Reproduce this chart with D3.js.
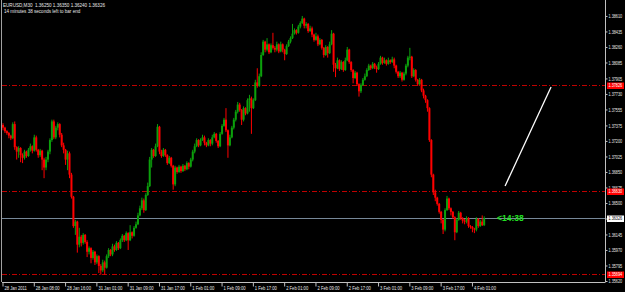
<!DOCTYPE html>
<html>
<head>
<meta charset="utf-8">
<script src="https://cdn.jsdelivr.net/npm/d3@7"></script>
<style>
  body { margin: 0; background: #000; }
  svg { display: block; }
  text { font-family: "Liberation Sans", Arial, sans-serif; }
</style>
</head>
<body>
<div id="chart"></div>
<script>
// EURUSD M30, 28 Jan 2011 00:00 .. 4 Feb 2011 04:30
var symbol = "EURUSD,M30";
var barInfo = "14 minutes 38 seconds left to bar end";
var countdown = "<14:38";

var firstOpen = 1.3738;
var closes = [
  1.3735,1.3731,1.3729,1.3726,1.3723,1.3739,1.3713,1.3708,1.3712,1.3704,
  1.3701,1.3708,1.3703,1.3710,1.3714,1.3709,1.3724,1.3710,1.3704,1.3709,
  1.3699,1.3690,1.3699,1.3708,1.3721,1.3742,1.3724,1.3735,1.3739,1.3727,
  1.3715,1.3710,1.3699,1.3706,1.3682,1.3657,1.3624,1.3629,1.3603,1.3612,
  1.3605,1.3614,1.3606,1.3595,1.3599,1.3588,1.3595,1.3583,1.3590,1.3579,
  1.3574,1.3583,1.3577,1.3590,1.3597,1.3592,1.3601,1.3597,1.3605,1.3599,
  1.3608,1.3613,1.3608,1.3616,1.3608,1.3617,1.3613,1.3622,1.3626,1.3636,
  1.3644,1.3653,1.3642,1.3659,1.3669,1.3699,1.3710,1.3703,1.3714,1.3736,
  1.3708,1.3703,1.3710,1.3704,1.3695,1.3701,1.3692,1.3671,1.3690,1.3685,
  1.3691,1.3686,1.3692,1.3688,1.3695,1.3691,1.3699,1.3708,1.3714,1.3721,
  1.3715,1.3721,1.3724,1.3718,1.3715,1.3721,1.3717,1.3724,1.3728,1.3720,
  1.3714,1.3728,1.3737,1.3744,1.3732,1.3715,1.3724,1.3735,1.3744,1.3753,
  1.3761,1.3755,1.3744,1.3757,1.3751,1.3766,1.3768,1.3757,1.3766,1.3786,
  1.3782,1.3793,1.3817,1.3832,1.3823,1.3829,1.3820,1.3828,1.3825,1.3823,
  1.3829,1.3821,1.3829,1.3823,1.3818,1.3827,1.3832,1.3836,1.3841,1.3845,
  1.3842,1.3849,1.3853,1.3858,1.3850,1.3852,1.3844,1.3847,1.3840,1.3834,
  1.3838,1.3829,1.3834,1.3825,1.3817,1.3826,1.3819,1.3829,1.3841,1.3806,
  1.3802,1.3811,1.3801,1.3809,1.3800,1.3811,1.3823,1.3809,1.3800,1.3791,
  1.3797,1.3784,1.3776,1.3783,1.3789,1.3793,1.3800,1.3805,1.3802,1.3807,
  1.3803,1.3801,1.3807,1.3814,1.3808,1.3811,1.3807,1.3811,1.3809,1.3812,
  1.3805,1.3798,1.3793,1.3797,1.3789,1.3796,1.3805,1.3814,1.3815,1.3793,
  1.3800,1.3789,1.3784,1.3789,1.3777,1.3771,1.3766,1.3757,1.3721,1.3682,
  1.3662,1.3656,1.3649,1.3640,1.3631,1.3620,1.3642,1.3655,1.3644,1.3640,
  1.3634,1.3617,1.3631,1.3639,1.3633,1.3630,1.3629,1.3633,1.3624,1.3623,
  1.3621,1.3620,1.3632,1.3624,1.3629,1.3625,1.36326
];
var highs = [
  1.3740,1.3736,1.3732,1.3730,1.3727,1.3741,1.3742,1.3714,1.3714,1.3713,
  1.3706,1.3710,1.3709,1.3712,1.3717,1.3715,1.3727,1.3726,1.3711,1.3711,
  1.3710,1.3701,1.3702,1.3710,1.3723,1.3744,1.3744,1.3737,1.3741,1.3740,
  1.3729,1.3718,1.3711,1.3709,1.3708,1.3684,1.3658,1.3631,1.3630,1.3622,
  1.3614,1.3616,1.3615,1.3608,1.3601,1.3600,1.3597,1.3596,1.3592,1.3591,
  1.3581,1.3586,1.3585,1.3592,1.3599,1.3598,1.3604,1.3603,1.3607,1.3606,
  1.3610,1.3615,1.3614,1.3618,1.3617,1.3625,1.3618,1.3624,1.3629,1.3639,
  1.3647,1.3656,1.3655,1.3661,1.3673,1.3702,1.3712,1.3711,1.3717,1.3739,
  1.3737,1.3710,1.3712,1.3711,1.3705,1.3703,1.3702,1.3693,1.3692,1.3691,
  1.3693,1.3692,1.3694,1.3693,1.3697,1.3696,1.3701,1.3710,1.3717,1.3723,
  1.3722,1.3723,1.3727,1.3726,1.3719,1.3723,1.3722,1.3727,1.3730,1.3729,
  1.3721,1.3730,1.3739,1.3746,1.3757,1.3733,1.3727,1.3737,1.3746,1.3755,
  1.3764,1.3763,1.3756,1.3759,1.3758,1.3768,1.3772,1.3770,1.3768,1.3789,
  1.3802,1.3796,1.3820,1.3834,1.3833,1.3836,1.3830,1.3830,1.3842,1.3827,
  1.3832,1.3830,1.3832,1.3830,1.3824,1.3829,1.3834,1.3838,1.3852,1.3847,
  1.3846,1.3851,1.3855,1.3861,1.3859,1.3854,1.3853,1.3850,1.3849,1.3841,
  1.3842,1.3840,1.3836,1.3835,1.3826,1.3828,1.3827,1.3832,1.3845,1.3842,
  1.3808,1.3814,1.3812,1.3811,1.3810,1.3814,1.3826,1.3824,1.3810,1.3801,
  1.3799,1.3798,1.3785,1.3785,1.3791,1.3796,1.3802,1.3807,1.3806,1.3809,
  1.3808,1.3805,1.3809,1.3816,1.3815,1.3814,1.3812,1.3814,1.3812,1.3815,
  1.3814,1.3806,1.3799,1.3799,1.3798,1.3798,1.3807,1.3816,1.3825,1.3816,
  1.3802,1.3801,1.3790,1.3791,1.3790,1.3779,1.3772,1.3767,1.3758,1.3722,
  1.3683,1.3665,1.3657,1.3650,1.3641,1.3632,1.3644,1.3658,1.3656,1.3645,
  1.3641,1.3635,1.3633,1.3641,1.3640,1.3634,1.3632,1.3635,1.3634,1.3625,
  1.3624,1.3622,1.3634,1.3633,1.3631,1.3636,1.36350
];
var lows = [
  1.3732,1.3729,1.3727,1.3723,1.3721,1.3722,1.3710,1.3699,1.3701,1.3696,
  1.3695,1.3699,1.3701,1.3702,1.3708,1.3706,1.3708,1.3708,1.3701,1.3702,
  1.3687,1.3678,1.3687,1.3696,1.3705,1.3719,1.3722,1.3722,1.3732,1.3724,
  1.3713,1.3706,1.3693,1.3687,1.3678,1.3655,1.3622,1.3614,1.3594,1.3600,
  1.3601,1.3603,1.3604,1.3589,1.3592,1.3582,1.3586,1.3580,1.3581,1.3571,
  1.3569,1.3572,1.3569,1.3576,1.3588,1.3590,1.3590,1.3595,1.3596,1.3597,
  1.3598,1.3606,1.3606,1.3607,1.3597,1.3607,1.3610,1.3612,1.3621,1.3625,
  1.3635,1.3642,1.3639,1.3641,1.3658,1.3668,1.3690,1.3701,1.3702,1.3713,
  1.3705,1.3701,1.3702,1.3702,1.3693,1.3694,1.3690,1.3665,1.3669,1.3683,
  1.3684,1.3684,1.3685,1.3686,1.3687,1.3688,1.3690,1.3697,1.3706,1.3713,
  1.3713,1.3714,1.3720,1.3715,1.3713,1.3714,1.3714,1.3715,1.3723,1.3718,
  1.3712,1.3713,1.3727,1.3736,1.3730,1.3701,1.3714,1.3723,1.3733,1.3742,
  1.3751,1.3753,1.3738,1.3742,1.3749,1.3750,1.3753,1.3728,1.3756,1.3765,
  1.3780,1.3781,1.3792,1.3816,1.3820,1.3821,1.3818,1.3819,1.3823,1.3820,
  1.3821,1.3819,1.3820,1.3820,1.3811,1.3817,1.3826,1.3830,1.3835,1.3840,
  1.3840,1.3841,1.3847,1.3852,1.3847,1.3847,1.3842,1.3843,1.3837,1.3832,
  1.3833,1.3827,1.3828,1.3823,1.3814,1.3816,1.3814,1.3818,1.3828,1.3798,
  1.3792,1.3801,1.3799,1.3800,1.3798,1.3799,1.3810,1.3807,1.3798,1.3785,
  1.3790,1.3782,1.3770,1.3774,1.3782,1.3788,1.3792,1.3799,1.3800,1.3801,
  1.3801,1.3797,1.3800,1.3806,1.3806,1.3807,1.3805,1.3806,1.3807,1.3808,
  1.3802,1.3796,1.3791,1.3791,1.3787,1.3788,1.3794,1.3803,1.3811,1.3791,
  1.3792,1.3787,1.3782,1.3783,1.3775,1.3768,1.3763,1.3753,1.3719,1.3679,
  1.3659,1.3652,1.3647,1.3638,1.3627,1.3615,1.3618,1.3641,1.3642,1.3636,
  1.3632,1.3608,1.3616,1.3630,1.3631,1.3627,1.3626,1.3627,1.3622,1.3621,
  1.3617,1.3616,1.3618,1.3622,1.3623,1.3624,1.36240
];

var timeTicks = [0, 16, 32, 48, 64, 80, 96, 112, 128, 144, 160, 176, 192, 208, 224, 240];
var timeLabels = ["28 Jan 2011", "28 Jan 08:00", "28 Jan 16:00", "31 Jan 01:00", "31 Jan 09:00",
  "31 Jan 17:00", "1 Feb 01:00", "1 Feb 09:00", "1 Feb 17:00", "2 Feb 01:00", "2 Feb 09:00",
  "2 Feb 17:00", "3 Feb 01:00", "3 Feb 09:00", "3 Feb 17:00", "4 Feb 01:00"];
var priceTicks = [1.38610, 1.38435, 1.38260, 1.38085, 1.37905, 1.37730, 1.37555, 1.37375, 1.37200,
  1.37025, 1.36850, 1.36675, 1.36500, 1.36325, 1.36145, 1.35970, 1.35795, 1.35620];

var redLevels = [1.37826, 1.36630, 1.35694];
var bidPrice = 1.36326;
// trend line drawn by hand: [bar, price]
var trendLine = [[257.2, 1.36692], [280.7, 1.37809]];

var W = 625, H = 292;
var plot = { left: 2, right: 605, top: 0, bottom: 282 };

var svg = d3.select("#chart").append("svg")
  .attr("width", W).attr("height", H);
svg.append("rect").attr("width", W).attr("height", H).attr("fill", "#000");

var x = d3.scaleLinear().domain([0, 308]).range([plot.left, plot.left + 308 * 1.956]);
var y = d3.scaleLinear().domain([1.3562, 1.3879]).range([281, 0]);

// squeeze text horizontally around its x anchor (the screenshot fonts are narrow)
function squeeze(sel, f) {
  sel.each(function () {
    var x0 = +d3.select(this).attr("x") || 0;
    d3.select(this).attr("transform", "translate(" + (x0 * (1 - f)) + ",0) scale(" + f + ",1)");
  });
}

var g = svg.append("g");

// horizontal levels
g.selectAll("line.lvl")
  .data(redLevels)
  .join("line")
  .attr("class", "lvl")
  .attr("x1", plot.left).attr("x2", plot.right)
  .attr("y1", d => Math.round(y(d)) + 0.5).attr("y2", d => Math.round(y(d)) + 0.5)
  .attr("stroke", "#c00000").attr("stroke-width", 1)
  .attr("stroke-dasharray", "5,2,1,2");

g.append("line")
  .attr("x1", plot.left).attr("x2", plot.right)
  .attr("y1", Math.round(y(bidPrice)) + 0.5).attr("y2", Math.round(y(bidPrice)) + 0.5)
  .attr("stroke", "#778899").attr("stroke-width", 1);

// candles
var bars = closes.map(function (c, i) {
  return { i: i, o: i ? closes[i - 1] : firstOpen, h: highs[i], l: lows[i], c: c };
});
var up = "#0ca00c", down = "#ff0000";

g.selectAll("line.wick")
  .data(bars)
  .join("line")
  .attr("class", "wick")
  .attr("x1", d => x(d.i) + 1).attr("x2", d => x(d.i) + 1)
  .attr("y1", d => y(d.h)).attr("y2", d => y(d.l))
  .attr("stroke", d => d.c >= d.o ? up : down)
  .attr("stroke-width", 1);

g.selectAll("rect.body")
  .data(bars)
  .join("rect")
  .attr("class", "body")
  .attr("x", d => x(d.i))
  .attr("width", 2)
  .attr("y", d => y(Math.max(d.o, d.c)))
  .attr("height", d => Math.max(0.8, Math.abs(y(d.o) - y(d.c))))
  .attr("fill", d => d.c >= d.o ? up : down);

// trend line
g.append("line")
  .attr("x1", x(trendLine[0][0])).attr("y1", y(trendLine[0][1]))
  .attr("x2", x(trendLine[1][0])).attr("y2", y(trendLine[1][1]))
  .attr("stroke", "#fff").attr("stroke-width", 1.3);

// countdown
g.append("text")
  .attr("x", 497).attr("y", y(bidPrice) + 3)
  .attr("fill", "#22e022").attr("font-size", 9).attr("font-weight", "bold")
  .text(countdown)
  .call(squeeze, 0.95);

// frame
svg.append("line").attr("x1", 1.5).attr("x2", 1.5).attr("y1", 0).attr("y2", plot.bottom)
  .attr("stroke", "#a0a0a0");

// price axis
var yAxis = d3.axisRight(y).tickValues(priceTicks).tickSize(2).tickPadding(1)
  .tickFormat(d3.format(".5f"));
var ya = svg.append("g").attr("transform", "translate(" + (plot.right + 0.5) + ",0)").call(yAxis);
ya.select(".domain").attr("stroke", "#c0c0c0").attr("d", "M0,0V" + plot.bottom);
ya.selectAll(".tick line").attr("stroke", "#c0c0c0");
ya.selectAll(".tick text").attr("fill", "#e8e8e8").attr("font-size", 5.6)
  .attr("font-family", "Liberation Sans, Arial, sans-serif")
  .call(squeeze, 0.68);

// price markers on the axis
function marker(price, bg, fg) {
  var yy = Math.round(y(price)) + 0.5;
  var m = svg.append("g");
  m.append("rect").attr("x", plot.right + 2).attr("y", yy - 3).attr("width", W - plot.right - 3).attr("height", 6.5)
    .attr("fill", bg);
  m.append("text").attr("x", plot.right + 3.5).attr("y", yy + 2)
    .attr("fill", fg).attr("font-size", 5.6)
    .text(d3.format(".5f")(price))
    .call(squeeze, 0.68);
}
redLevels.forEach(p => marker(p, "#ff0000", "#ffffff"));
marker(bidPrice, "#ffffff", "#000000");

// time axis
var xAxis = d3.axisBottom(x).tickValues(timeTicks).tickSize(4).tickPadding(1)
  .tickFormat((d, k) => timeLabels[k]);
var xa = svg.append("g").attr("transform", "translate(0," + (plot.bottom + 0.5) + ")").call(xAxis);
xa.select(".domain").attr("stroke", "#c0c0c0").attr("d", "M" + plot.left + ",0H" + (plot.right + 0.5));
xa.selectAll(".tick line").attr("stroke", "#c0c0c0").attr("transform", "translate(0.5,0)");
xa.selectAll(".tick text").attr("fill", "#e8e8e8").attr("font-size", 5.6)
  .attr("text-anchor", "start").attr("x", 2).attr("dy", "0.5em")
  .attr("font-family", "Liberation Sans, Arial, sans-serif")
  .call(squeeze, 0.74);

// header
var last = bars[bars.length - 1];
var f5 = d3.format(".5f");
svg.append("text").attr("x", 3).attr("y", 7.5).attr("fill", "#e8e8e8").attr("font-size", 6.2)
  .attr("xml:space", "preserve")
  .text(symbol + "  " + [last.o, last.h, last.l, last.c].map(f5).join(" "))
  .call(squeeze, 0.74);
svg.append("text").attr("x", 4).attr("y", 13.5).attr("fill", "#e8e8e8").attr("font-size", 6.2)
  .text(barInfo)
  .call(squeeze, 0.74);
</script>
</body>
</html>
